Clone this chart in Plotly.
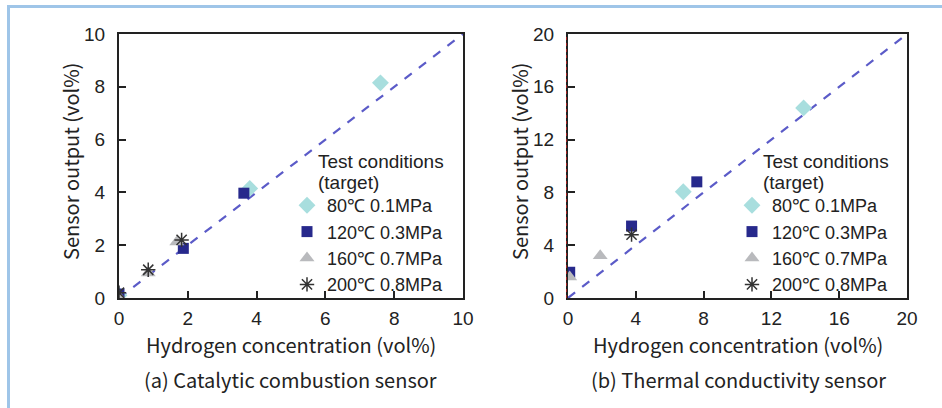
import plotly.graph_objects as go

# ---------------- data ----------------
series_names = ["80\u2103 0.1MPa", "120\u2103 0.3MPa", "160\u2103 0.7MPa", "200\u2103 0.8MPa"]

# (a) Catalytic combustion sensor
a_x_80 = [0.0, 3.8, 7.6]
a_y_80 = [0.1, 4.15, 8.15]
a_x_120 = [0.0, 1.87, 3.63]
a_y_120 = [0.15, 1.88, 3.97]
a_x_160 = [0.0, 0.85, 1.68]
a_y_160 = [0.05, 0.95, 2.12]
a_x_200 = [0.0, 0.85, 1.82]
a_y_200 = [0.2, 1.07, 2.2]

# (b) Thermal conductivity sensor
b_x_80 = [6.8, 13.9]
b_y_80 = [8.05, 14.4]
b_x_120 = [0.1, 3.75, 7.6]
b_y_120 = [1.95, 5.45, 8.8]
b_x_160 = [0.1, 1.9]
b_y_160 = [1.6, 3.2]
b_x_200 = [3.75]
b_y_200 = [4.8]

ideal_a = [0, 10]
ideal_b = [0, 20]

a_ticks = [0, 2, 4, 6, 8, 10]
b_ticks = [0, 4, 8, 12, 16, 20]

# ---------------- styles ----------------
colors = ["#a8dede", "#27298c", "#b9babd", "#333333"]
symbols = ["diamond", "square", "triangle-up", "asterisk-open"]
sizes = [13, 11, 13, 12]

W, H = 942, 408
tick_font = dict(family="Liberation Sans, Arial, sans-serif", size=19, color="#222")
title_font = dict(family="Noto Sans CJK JP, sans-serif", size=20, color="#222")
leg_font = dict(family="Liberation Sans, Arial, sans-serif", size=18, color="#222")
leg_title_font = dict(family="Liberation Sans, Arial, sans-serif", size=19, color="#222")

fig = go.Figure()

def add_series(xs, ys, xa, ya, legend, show):
    for i, (x, y) in enumerate(zip(xs, ys)):
        fig.add_trace(go.Scatter(
            x=x, y=y, mode="markers", name=series_names[i],
            xaxis=xa, yaxis=ya, legend=legend, showlegend=show,
            marker=dict(symbol=symbols[i], size=sizes[i], color=colors[i],
                        line=dict(color=colors[i], width=1.5 if i == 3 else 0)),
        ))

# ideal lines
fig.add_trace(go.Scatter(x=ideal_a, y=ideal_a, mode="lines", xaxis="x", yaxis="y",
                         line=dict(color="#5b5bc8", width=2.2, dash="dash"), showlegend=False))
fig.add_trace(go.Scatter(x=ideal_b, y=ideal_b, mode="lines", xaxis="x2", yaxis="y2",
                         line=dict(color="#5b5bc8", width=2.2, dash="dash"), showlegend=False))

add_series([a_x_80, a_x_120, a_x_160, a_x_200], [a_y_80, a_y_120, a_y_160, a_y_200],
           "x", "y", "legend", True)
add_series([b_x_80, b_x_120, b_x_160, b_x_200], [b_y_80, b_y_120, b_y_160, b_y_200],
           "x2", "y2", "legend2", True)

def px_x(p):
    return p / W

def px_y(p):
    return (H - p) / H

axis_common = dict(showgrid=False, zeroline=False, showline=True, mirror=True,
                   linecolor="#222", linewidth=2, ticks="inside", ticklen=7,
                   tickwidth=1.5, tickcolor="#222", tickfont=tick_font,
                   automargin=False)

fig.update_layout(
    template="none",
    width=W, height=H, margin=dict(l=0, r=0, t=0, b=0, pad=0),
    paper_bgcolor="white", plot_bgcolor="white",
    xaxis=dict(domain=[px_x(119), px_x(463)], range=[0, 10], tickvals=a_ticks,
               anchor="y", ticklabelstandoff=2, **axis_common),
    yaxis=dict(domain=[px_y(298), px_y(34)], range=[0, 10], tickvals=a_ticks,
               anchor="x", ticklabelstandoff=8, **axis_common),
    xaxis2=dict(domain=[px_x(568), px_x(907)], range=[0, 20], tickvals=b_ticks,
                anchor="y2", ticklabelstandoff=2, **axis_common),
    yaxis2=dict(domain=[px_y(298), px_y(34)], range=[0, 20], tickvals=b_ticks,
                anchor="x2", ticklabelstandoff=8, **axis_common),
    legend=dict(x=px_x(287), y=px_y(187), xanchor="left", yanchor="top",
                bgcolor="rgba(0,0,0,0)", font=leg_font, tracegroupgap=0,
                itemwidth=30, borderwidth=0),
    legend2=dict(x=px_x(732), y=px_y(187), xanchor="left", yanchor="top",
                 bgcolor="rgba(0,0,0,0)", font=leg_font, tracegroupgap=0,
                 itemwidth=30, borderwidth=0),
    showlegend=True,
)

ann = []
# legend titles
for xl in (316, 761):
    ann.append(dict(text="Test conditions", x=px_x(xl), y=px_y(161),
                    xref="paper", yref="paper", xanchor="left", yanchor="middle",
                    align="left", showarrow=False, font=leg_title_font))
    ann.append(dict(text="(target)", x=px_x(xl), y=px_y(183),
                    xref="paper", yref="paper", xanchor="left", yanchor="middle",
                    align="left", showarrow=False, font=leg_title_font))
# x titles
for xc in (291, 738):
    ann.append(dict(text="Hydrogen concentration (vol%)", x=px_x(xc), y=px_y(344),
                    xref="paper", yref="paper", xanchor="center", yanchor="middle",
                    showarrow=False, font=title_font))
# y titles
for xc in (70, 519):
    ann.append(dict(text="Sensor output (vol%)", x=px_x(xc), y=px_y(162), textangle=-90,
                    xref="paper", yref="paper", xanchor="center", yanchor="middle",
                    showarrow=False, font=title_font))
# captions
ann.append(dict(text="(a) Catalytic combustion sensor", x=px_x(290), y=px_y(379),
                xref="paper", yref="paper", xanchor="center", yanchor="middle",
                showarrow=False, font=title_font))
ann.append(dict(text="(b) Thermal conductivity sensor", x=px_x(738), y=px_y(379),
                xref="paper", yref="paper", xanchor="center", yanchor="middle",
                showarrow=False, font=title_font))
fig.update_layout(annotations=ann)

# decorative frame border (left and top) and dotted line on (b) y-axis
fig.update_layout(shapes=[
    dict(type="line", xref="paper", yref="paper", x0=px_x(8.5), x1=px_x(8.5),
         y0=0, y1=px_y(5), line=dict(color="#9fc5e8", width=3)),
    dict(type="line", xref="paper", yref="paper", x0=px_x(7), x1=1,
         y0=px_y(6.5), y1=px_y(6.5), line=dict(color="#9fc5e8", width=3)),
    dict(type="line", xref="paper", yref="paper", x0=px_x(566.5), x1=px_x(566.5),
         y0=px_y(298), y1=px_y(36), line=dict(color="#a02020", width=1, dash="dot")),
])

fig.write_html(
    "out.html",
    config={"displayModeBar": False},
    post_script="document.body.style.margin='0';document.body.style.overflow='hidden';",
)
